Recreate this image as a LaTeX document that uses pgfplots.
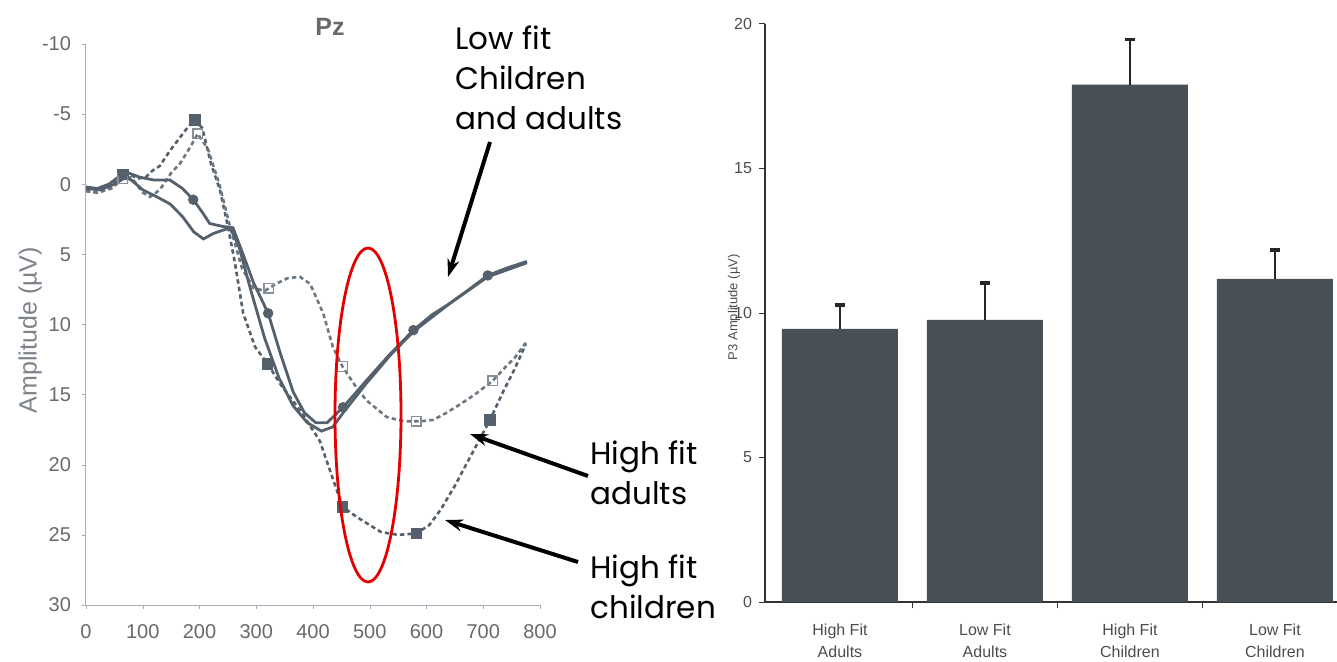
\documentclass[border=0pt]{standalone}
\usepackage{fontspec}
\setmainfont{Liberation Sans}
\newfontfamily\comic{Poppins}
\usepackage{pgfplots}
\pgfplotsset{compat=1.18}
\usetikzlibrary{arrows.meta}

\definecolor{ln}{RGB}{84,96,108}
\definecolor{barc}{RGB}{72,80,86}
\definecolor{tk}{RGB}{105,105,105}
\definecolor{axc}{RGB}{165,175,185}

\begin{document}
\begin{tikzpicture}
\path[use as bounding box] (0,0) rectangle (668.5pt,-331pt);

% ---------------- left: ERP waveforms ----------------
\begin{axis}[
  at={(43pt,-302.5pt)}, anchor=south west,
  scale only axis, width=227pt, height=280.5pt,
  xmin=0, xmax=800, ymin=-10, ymax=30, y dir=reverse,
  axis x line*=bottom, axis y line*=left,
  axis line style={draw=axc, line width=0.5pt},
  xtick={0,100,...,800}, ytick={-10,-5,...,30},
  tick align=outside, major tick length=2pt,
  tick style={draw=axc},
  /pgf/number format/assume math mode=true,
  ticklabel style={font=\fontsize{10}{12}\selectfont, text=tk},
  yticklabel style={xshift=-2pt},
  xticklabel style={yshift=-4pt},
  ylabel={Amplitude (µV)},
  ylabel style={at={(axis description cs:-0.123,0.49)}, anchor=center, rotate=0, font=\fontsize{12.5}{14}\selectfont, text=axc!75!black},
  clip=false,
]
% High fit children (dashed, filled squares)
\addplot[ln, line width=1.3pt, dash pattern=on 2.2pt off 1.6pt] coordinates {
(0,0.4) (20,0.6) (40,0.3) (60,-0.6) (75,-0.8) (90,-0.4) (105,-0.5) (118,-1.0) (130,-1.3)
(148,-2.4) (165,-3.3) (180,-4.1) (192,-4.6) (205,-4.0) (220,-1.5) (236,0.4) (250,3.0)
(262,5.5) (277,9.2) (298,11.6) (320,12.8) (345,14.4) (377,16.1) (412,18.3) (435,21.0)
(452,23.0) (480,23.8) (520,24.8) (550,25.0) (582,24.9) (605,24.3) (625,23.2) (650,21.5)
(675,19.6) (712,16.8) (735,14.8) (755,13.2) (775,11.4)};
\addplot[only marks, mark=square*, mark size=2.6pt, ln, fill=ln] coordinates {
(65,-0.7) (192,-4.6) (320,12.8) (452,23.0) (582,24.9) (712,16.8)};
% High fit adults (dashed, open squares)
\addplot[ln!85!white, line width=1.3pt, dash pattern=on 2.2pt off 1.6pt] coordinates {
(0,0.5) (20,0.6) (45,0.3) (65,-0.4) (80,-0.5) (100,0.6) (113,0.9) (130,0.4) (150,-0.8)
(166,-1.5) (183,-2.6) (197,-3.6) (215,-2.5) (235,0.0) (255,3.2) (275,6.0) (295,7.4)
(315,7.6) (335,7.1) (355,6.7) (377,6.6) (395,7.1) (418,9.2) (435,11.6) (452,13.0)
(475,14.4) (494,15.4) (530,16.6) (560,16.9) (590,16.9) (612,16.8) (635,16.3) (655,15.8)
(685,15.0) (717,14.0) (740,13.0) (755,12.4) (775,11.3)};
\addplot[only marks, mark=square, mark size=2.4pt, ln!70!white, line width=0.7pt] coordinates {
(65,-0.4) (197,-3.6) (322,7.4) (452,13.0) (582,16.9) (717,14.0)};
% Low fit adults (solid)
\addplot[ln, line width=1.4pt] coordinates {
(0,0.3) (25,0.4) (50,0.0) (70,-0.5) (80,-0.3) (100,0.4) (125,0.9) (148,1.4) (170,2.3)
(190,3.4) (207,3.9) (225,3.5) (254,3.1) (270,4.5) (290,7.5) (315,11.0) (340,13.8)
(365,15.8) (390,17.0) (415,17.6) (435,17.3) (453,16.3) (494,14.2) (536,12.2) (577,10.5)
(641,8.5) (708,6.6) (777,5.6)};
% Low fit children (solid, circles)
\addplot[ln, line width=1.4pt] coordinates {
(0,0.2) (20,0.3) (40,0.0) (60,-0.6) (75,-0.8) (95,-0.5) (120,-0.3) (148,-0.3) (170,0.3)
(189,1.1) (205,2.0) (218,2.8) (240,3.0) (259,3.1) (275,4.8) (295,7.0) (321,9.2) (342,12.0)
(365,14.8) (385,16.3) (405,17.0) (425,17.0) (453,15.9) (494,14.0) (536,12.1) (577,10.4)
(610,9.3) (641,8.5) (675,7.5) (708,6.5) (740,6.0) (777,5.5)};
\addplot[only marks, mark=*, mark size=2.4pt, ln, fill=ln] coordinates {
(65,-0.7) (189,1.1) (321,9.2) (453,15.9) (577,10.4) (708,6.5)};
\end{axis}

% ---------------- right: P3 amplitude bars ----------------
\begin{axis}[
  at={(382.5pt,-301pt)}, anchor=south west,
  scale only axis, width=286pt, height=289pt,
  xmin=-0.517, xmax=3.428, ymin=0, ymax=20,
  axis x line*=bottom, axis y line*=left,
  axis line style={draw=black!80, line width=0.6pt},
  ytick={0,5,10,15,20},
  xtick={0.5,1.5,2.5}, xticklabels={},
  extra x ticks={0,1,2,3},
  extra x tick labels={{High Fit\\Adults},{Low Fit\\Adults},{High Fit\\Children},{Low Fit\\Children}},
  extra x tick style={major tick length=0pt, xticklabel style={align=center, yshift=-7.5pt}},
  tick align=outside, major tick length=3pt,
  tick style={draw=black!80, line width=0.5pt},
  /pgf/number format/assume math mode=true,
  ticklabel style={font=\fontsize{8}{11}\selectfont, text=black!70},
  ylabel={P3 Amplitude (µV)},
  ylabel style={at={(axis description cs:-0.054,0.51)}, anchor=center, font=\fontsize{6.5}{8}\selectfont, text=black!70},
  clip=false,
]
\addplot[ybar, bar width=58pt, fill=barc, draw=none,
  error bars/.cd, y dir=plus, y explicit,
  error bar style={line width=1.1pt, black!85},
  error mark options={rotate=90, line width=1.6pt, mark size=2.6pt, black!85}]
  coordinates {
  (0,9.45) +- (0,0.83)
  (1,9.76) +- (0,1.28)
  (2,17.9) +- (0,1.55)
  (3,11.18) +- (0,1.0)};
\end{axis}

% ---------------- annotations (pixel coordinates) ----------------
\begin{scope}[x=0.5pt, y=-0.5pt]
\node[font=\bfseries\fontsize{12.5}{14}\selectfont, text=tk] at (330,27) {Pz};
\draw[red!90!black, line width=1.4pt] (368,415) ellipse [x radius=33, y radius=167];
\node[anchor=west, align=left, inner sep=0pt, font=\comic\fontsize{15.5}{20}\selectfont] at (455,78) {Low fit\\Children\\and adults};
\node[anchor=west, align=left, inner sep=0pt, font=\comic\fontsize{15.5}{20}\selectfont] at (590,473) {High fit\\adults};
\node[anchor=west, align=left, inner sep=0pt, font=\comic\fontsize{15.5}{20}\selectfont] at (590,587) {High fit\\children};
\draw[line width=2pt, -{Stealth[length=9pt, width=6pt]}] (490,142) -- (448,277);
\draw[line width=2pt, -{Stealth[length=9pt, width=6pt]}] (588,476) -- (470,434);
\draw[line width=2pt, -{Stealth[length=9pt, width=6pt]}] (578,562) -- (445,520);
\end{scope}
\end{tikzpicture}
\end{document}
